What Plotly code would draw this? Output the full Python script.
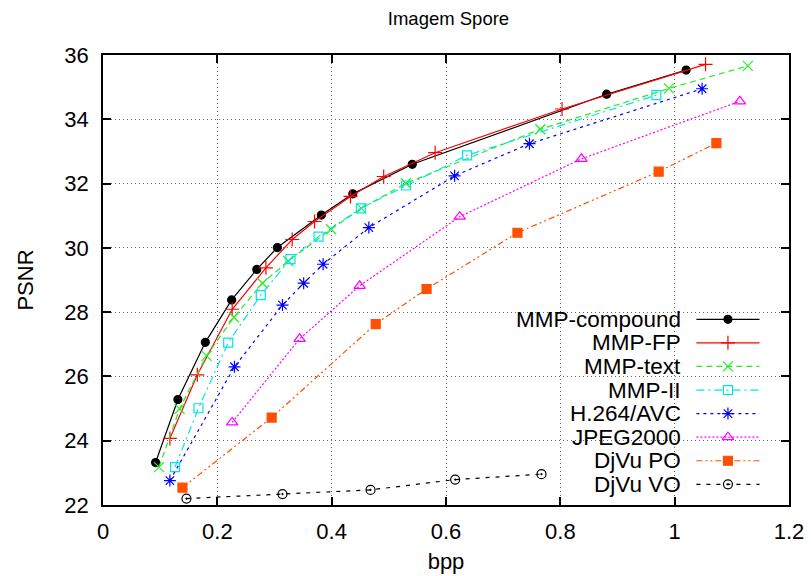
import plotly.graph_objects as go

# Rate-distortion results for the "Spore" image: bits per pixel vs PSNR (dB)
compound_bpp = [0.092, 0.131, 0.179, 0.225, 0.269, 0.305, 0.382, 0.437, 0.541, 0.881, 1.020]
compound_psnr = [23.32, 25.28, 27.06, 28.38, 29.33, 30.01, 31.02, 31.68, 32.60, 34.78, 35.53]

fp_bpp = [0.117, 0.165, 0.226, 0.285, 0.331, 0.370, 0.433, 0.491, 0.581, 0.803, 1.054]
fp_psnr = [24.07, 26.05, 28.09, 29.38, 30.26, 30.82, 31.60, 32.22, 32.96, 34.32, 35.71]

text_bpp = [0.098, 0.134, 0.181, 0.229, 0.279, 0.324, 0.399, 0.452, 0.530, 0.765, 0.990, 1.128]
text_psnr = [23.18, 24.99, 26.64, 27.84, 28.90, 29.59, 30.58, 31.23, 32.01, 33.69, 34.96, 35.66]

ii_bpp = [0.126, 0.167, 0.219, 0.276, 0.328, 0.377, 0.451, 0.530, 0.637, 0.968]
ii_psnr = [23.18, 25.01, 27.05, 28.53, 29.65, 30.35, 31.23, 31.94, 32.88, 34.75]

h264_bpp = [0.117, 0.230, 0.314, 0.351, 0.385, 0.465, 0.615, 0.746, 1.048]
h264_psnr = [22.76, 26.30, 28.22, 28.90, 29.49, 30.63, 32.24, 33.24, 34.95]

jpeg_bpp = [0.226, 0.344, 0.449, 0.624, 0.837, 1.114]
jpeg_psnr = [24.57, 27.17, 28.82, 30.97, 32.77, 34.56]

djvu_po_bpp = [0.139, 0.295, 0.477, 0.566, 0.725, 0.972, 1.073]
djvu_po_psnr = [22.54, 24.72, 27.63, 28.72, 30.47, 32.37, 33.26]

djvu_vo_bpp = [0.146, 0.314, 0.468, 0.616, 0.767]
djvu_vo_psnr = [22.20, 22.34, 22.47, 22.79, 22.96]

x_ticks = [0, 0.2, 0.4, 0.6, 0.8, 1.0, 1.2]
x_tick_labels = ["0", "0.2", "0.4", "0.6", "0.8", "1", "1.2"]
y_ticks = [22, 24, 26, 28, 30, 32, 34, 36]

FONT = "Liberation Sans, Arial, sans-serif"

series = [
    ("MMP-compound", compound_bpp, compound_psnr, "#000000", "solid", "circle", 8),
    ("MMP-FP", fp_bpp, fp_psnr, "#ff0000", "solid", "cross-thin", 10),
    ("MMP-text", text_bpp, text_psnr, "#22ee22", "6px,4px", "x-thin", 10),
    ("MMP-II", ii_bpp, ii_psnr, "#00e5ee", "8px,4px,2px,4px", "square-open", 9),
    ("H.264/AVC", h264_bpp, h264_psnr, "#0000ff", "3px,4px", "asterisk-open", 10),
    ("JPEG2000", jpeg_bpp, jpeg_psnr, "#ff00ff", "2px,2px", "triangle-up-open", 10),
    ("DjVu PO", djvu_po_bpp, djvu_po_psnr, "#ff4f00", "6px,3px,2px,3px,2px,3px", "square", 9),
    ("DjVu VO", djvu_vo_bpp, djvu_vo_psnr, "#000000", "4px,6px", "circle-open-dot", 9),
]

# Key box geometry (paper fractions of the plotting area)
KEY_LEFT = 0.596       # where the opaque key background starts
KEY_TOP = 0.444
KEY_TEXT_RIGHT = 0.845
KEY_LINE_X0, KEY_LINE_X1 = 0.865, 0.957
KEY_ROW0 = 0.4127      # first row centre
KEY_ROW_STEP = 0.0524  # row spacing

fig = go.Figure()
for name, xs, ys, color, dash, symbol, size in series:
    fig.add_trace(go.Scatter(
        x=xs, y=ys, name=name, mode="lines+markers", showlegend=False,
        line=dict(color=color, width=1.2, dash=dash),
        marker=dict(symbol=symbol, size=size, color=color, opacity=1,
                    line=dict(color=color, width=1.2)),
    ))

annotations = []
shapes = [dict(type="rect", xref="paper", yref="paper", x0=KEY_LEFT, x1=1.0,
               y0=0.0, y1=KEY_TOP, fillcolor="white", line=dict(width=0),
               layer="between")]

# Hand-built key: right-aligned labels followed by line/marker samples
for i, (name, xs, ys, color, dash, symbol, size) in enumerate(series):
    ry = KEY_ROW0 - i * KEY_ROW_STEP
    annotations.append(dict(
        text=name, xref="paper", yref="paper", x=KEY_TEXT_RIGHT, y=ry,
        xanchor="right", yanchor="middle", showarrow=False,
        font=dict(family=FONT, size=22.5, color="black"),
    ))
    fig.add_trace(go.Scatter(
        x=[KEY_LINE_X0, KEY_LINE_X1], y=[ry, ry],
        xaxis="x2", yaxis="y2", mode="lines", showlegend=False,
        hoverinfo="skip", cliponaxis=False,
        line=dict(color=color, width=1.2, dash=dash),
    ))
    fig.add_trace(go.Scatter(
        x=[(KEY_LINE_X0 + KEY_LINE_X1) / 2], y=[ry],
        xaxis="x2", yaxis="y2", mode="markers", showlegend=False,
        hoverinfo="skip", cliponaxis=False,
        marker=dict(symbol=symbol, size=size, color=color, opacity=1,
                    line=dict(color=color, width=1.2)),
    ))

axis_common = dict(
    showline=True, linecolor="black", linewidth=1.5, mirror="allticks",
    ticks="inside", ticklen=8, tickcolor="black", tickwidth=1.5,
    showgrid=True, gridcolor="#666666", gridwidth=1, griddash="1px,3px",
    zeroline=False, automargin=False,
    tickfont=dict(family=FONT, size=22, color="black"),
)

fig.update_layout(
    width=811, height=576,
    margin=dict(l=103, r=22, t=55, b=71),
    paper_bgcolor="white", plot_bgcolor="white",
    font=dict(family=FONT, color="black"),
    title=dict(text="Imagem Spore", x=0.553, xanchor="center", y=0.968, yanchor="middle",
               font=dict(family=FONT, size=18.5, color="black")),
    xaxis=dict(range=[0, 1.2], tickvals=x_ticks, ticktext=x_tick_labels,
               ticklabelstandoff=6,
               title=dict(text="bpp", font=dict(family=FONT, size=22), standoff=10),
               **axis_common),
    yaxis=dict(range=[22, 36], tickvals=y_ticks, ticklabelstandoff=8,
               title=dict(text="PSNR", font=dict(family=FONT, size=22), standoff=25),
               **axis_common),
    xaxis2=dict(overlaying="x", range=[0, 1], visible=False, fixedrange=True),
    yaxis2=dict(overlaying="y", range=[0, 1], visible=False, fixedrange=True),
    shapes=shapes,
    annotations=annotations,
    showlegend=False,
)

fig.write_html("out.html")
